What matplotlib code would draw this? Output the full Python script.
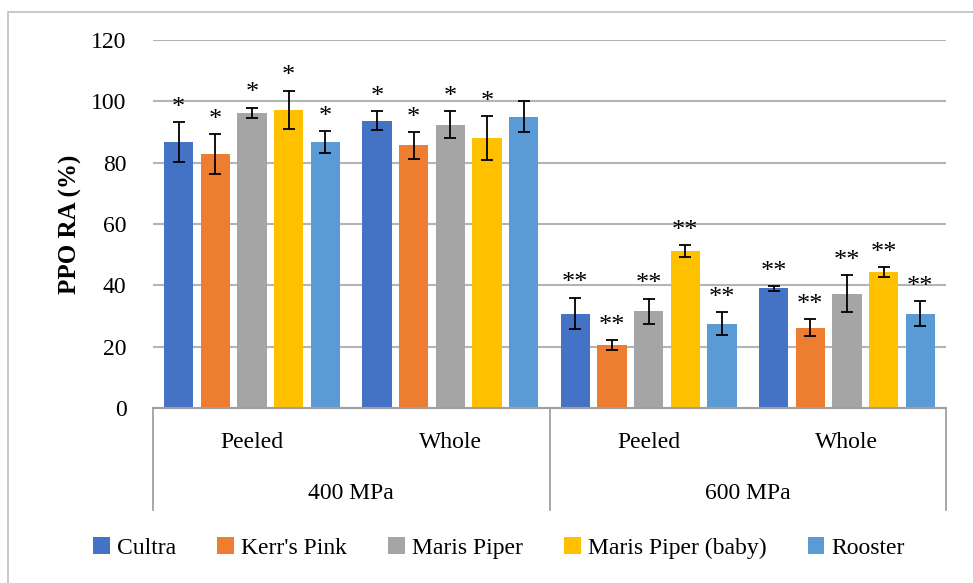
import numpy as np
import matplotlib.pyplot as plt
from matplotlib.patches import Rectangle
from matplotlib.lines import Line2D

plt.rcParams['font.family'] = ['Liberation Serif', 'DejaVu Serif']

# categories along the x axis: (treatment, pressure)
treatments = ['Peeled', 'Whole', 'Peeled', 'Whole']
pressures = ['400 MPa', '600 MPa']
cultivars = ['Cultra', "Kerr's Pink", 'Maris Piper', 'Maris Piper (baby)', 'Rooster']
colors = ['#4472C4', '#ED7D31', '#A5A5A5', '#FFC000', '#5B9BD5']

# PPO residual activity (%), one list per cultivar, order as in treatments
cultra = [86.7, 93.6, 30.8, 39.0]
kerrs_pink = [82.7, 85.6, 20.6, 26.2]
maris_piper = [96.3, 92.4, 31.5, 37.3]
maris_piper_baby = [97.2, 88.0, 51.2, 44.3]
rooster = [86.7, 95.0, 27.5, 30.8]

cultra_sd = [6.5, 3.1, 5.2, 0.7]
kerrs_pink_sd = [6.5, 4.3, 1.6, 2.8]
maris_piper_sd = [1.6, 4.3, 4.2, 6.1]
maris_piper_baby_sd = [6.3, 7.2, 2.0, 1.7]
rooster_sd = [3.5, 5.0, 3.7, 4.1]

# significance marks above each bar
cultra_sig = ['*', '*', '**', '**']
kerrs_pink_sig = ['*', '*', '**', '**']
maris_piper_sig = ['*', '*', '**', '**']
maris_piper_baby_sig = ['*', '*', '**', '**']
rooster_sig = ['*', '', '**', '**']

means = [cultra, kerrs_pink, maris_piper, maris_piper_baby, rooster]
sds = [cultra_sd, kerrs_pink_sd, maris_piper_sd, maris_piper_baby_sd, rooster_sd]
sigs = [cultra_sig, kerrs_pink_sig, maris_piper_sig, maris_piper_baby_sig, rooster_sig]

fig = plt.figure(figsize=(9.73, 5.83), dpi=100)
ax = fig.add_axes([153/973, 1 - 408/583, (946 - 153)/973, 368/583])

x = np.arange(len(treatments))
slot = 0.185
width = 0.148
for i in range(len(cultivars)):
    xs = x + (i - 2) * slot
    ax.bar(xs, means[i], width, color=colors[i], label=cultivars[i], zorder=2)
    ax.errorbar(xs, means[i], yerr=sds[i], fmt='none', ecolor='black',
                elinewidth=1.3, capsize=4.5, capthick=1.3, zorder=3)
    for xi, m, s, mark in zip(xs, means[i], sds[i], sigs[i]):
        if mark:
            ax.annotate(mark, (xi, m + s), xytext=(0, 6), textcoords='offset points',
                        ha='center', va='baseline', fontsize=19)

ax.set_xlim(-0.5, 3.5)
ax.set_ylim(0, 120)
ax.set_yticks(np.arange(0, 121, 20))
ax.tick_params(axis='y', length=0, labelsize=17, pad=19)
ax.tick_params(axis='x', length=0, labelbottom=False)
ax.grid(axis='y', color='#b4b4b4', linewidth=1.5, zorder=0)
ax.set_axisbelow(True)
for side in ['top', 'right', 'left']:
    ax.spines[side].set_visible(False)
ax.spines['bottom'].set_color('#a0a0a0')
ax.spines['bottom'].set_linewidth(1.5)
ax.set_ylabel('PPO RA (%)', fontsize=18, fontweight='bold', labelpad=7)

# two-level category axis
trans = ax.get_xaxis_transform()
for t, xi in zip(treatments, x):
    ax.text(xi, -0.095, t, transform=trans, ha='center', va='center', fontsize=17)
for j, p in enumerate(pressures):
    ax.text(0.5 + 2 * j, -0.233, p, transform=trans, ha='center', va='center', fontsize=17)
for xv in [-0.5, 1.5, 3.5]:
    ax.add_line(Line2D([xv, xv], [0, -0.278], transform=trans, color='#a0a0a0',
                       linewidth=1.3, clip_on=False))

fig.legend(loc='center', bbox_to_anchor=(499/973, 1 - 548/583), ncol=5, frameon=False,
           fontsize=17, handlelength=0.7, handleheight=0.7, handletextpad=0.3,
           columnspacing=1.75)

# chart area border
fig.patches.append(Rectangle((8/973, -0.05), 1.0, 1 - 12/583 + 0.05, transform=fig.transFigure,
                             fill=False, edgecolor='#bfbfbf', linewidth=1.2))

fig.savefig('out.png', dpi=100)
